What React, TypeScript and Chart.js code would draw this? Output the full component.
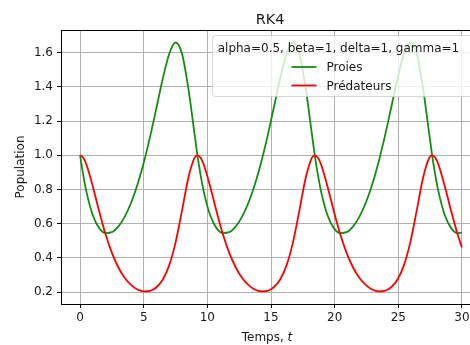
import React, { useEffect, useRef } from "react";
import { Chart, registerables } from "chart.js";

Chart.register(...registerables);

const chartTitle = "RK4";
const xLabelText = "Temps, ";
const xLabelVar = "t";
const yLabelText = "Population";
const legendTitle = "alpha=0.5, beta=1, delta=1, gamma=1";
const seriesNames = ["Proies", "Prédateurs"];
const seriesColors = ["#158c15", "#ff0000"];

const times = [
  0, 0.25, 0.5, 1, 1.5, 2, 2.5, 3, 3.5, 4, 4.5, 5, 5.5, 6, 6.5, 7, 7.5, 8, 8.5, 9,
  9.22, 9.47, 9.72, 10.22, 10.72, 11.22, 11.72, 12.22, 12.72, 13.22, 13.72, 14.22, 14.72, 15.22, 15.72, 16.22, 16.72, 17.22, 17.72, 18.22,
  18.44, 18.69, 18.94, 19.44, 19.94, 20.44, 20.94, 21.44, 21.94, 22.44, 22.94, 23.44, 23.94, 24.44, 24.94, 25.44, 25.94, 26.44, 26.94, 27.44,
  27.66, 27.91, 28.16, 28.66, 29.16, 29.66, 30,
];

const prey = [
  1.0, 0.884, 0.786, 0.649, 0.574, 0.545, 0.55, 0.583, 0.64, 0.721, 0.826, 0.956, 1.109, 1.278, 1.449, 1.593, 1.66, 1.597, 1.394, 1.121,
  1.0, 0.884, 0.786, 0.649, 0.574, 0.545, 0.55, 0.583, 0.64, 0.721, 0.826, 0.956, 1.109, 1.278, 1.449, 1.593, 1.66, 1.597, 1.394, 1.121,
  1.0, 0.884, 0.786, 0.649, 0.574, 0.545, 0.55, 0.583, 0.64, 0.721, 0.826, 0.956, 1.109, 1.278, 1.449, 1.593, 1.66, 1.597, 1.394, 1.121,
  1.0, 0.884, 0.786, 0.649, 0.574, 0.545, 0.547,
];

const predators = [
  1.0, 0.985, 0.945, 0.818, 0.672, 0.538, 0.429, 0.345, 0.284, 0.242, 0.215, 0.204, 0.207, 0.228, 0.273, 0.356, 0.489, 0.673, 0.866, 0.986,
  1.0, 0.985, 0.945, 0.818, 0.672, 0.538, 0.429, 0.345, 0.284, 0.242, 0.215, 0.204, 0.207, 0.228, 0.273, 0.356, 0.489, 0.673, 0.866, 0.986,
  1.0, 0.985, 0.945, 0.818, 0.672, 0.538, 0.429, 0.345, 0.284, 0.242, 0.215, 0.204, 0.207, 0.228, 0.273, 0.356, 0.489, 0.673, 0.866, 0.986,
  1.0, 0.985, 0.945, 0.818, 0.672, 0.538, 0.461,
];

const xTicks = [0, 5, 10, 15, 20, 25, 30];
const yTicks = [0.2, 0.4, 0.6, 0.8, 1.0, 1.2, 1.4, 1.6];

const FONT_FAMILY = "'DejaVu Sans', sans-serif";
const TEXT_COLOR = "#1a1a1a";

export default function App() {
  const ref = useRef<HTMLCanvasElement>(null);

  useEffect(() => {
    const canvas = ref.current;
    if (!canvas) return;

    const decor = {
      id: "decor",
      afterDatasetsDraw(chart: any) {
        const { ctx, chartArea: a } = chart;
        ctx.save();
        // top spine
        ctx.strokeStyle = "#000";
        ctx.lineWidth = 1;
        ctx.beginPath();
        ctx.moveTo(a.left, Math.round(a.top) + 0.5);
        ctx.lineTo(a.right, Math.round(a.top) + 0.5);
        ctx.stroke();

        // legend box
        const bx = a.right - 268.5;
        const by = a.top + 5.5;
        const bw = 262;
        const bh = 61;
        const r = 3;
        ctx.beginPath();
        ctx.moveTo(bx + r, by);
        ctx.lineTo(bx + bw - r, by);
        ctx.arcTo(bx + bw, by, bx + bw, by + r, r);
        ctx.lineTo(bx + bw, by + bh - r);
        ctx.arcTo(bx + bw, by + bh, bx + bw - r, by + bh, r);
        ctx.lineTo(bx + r, by + bh);
        ctx.arcTo(bx, by + bh, bx, by + bh - r, r);
        ctx.lineTo(bx, by + r);
        ctx.arcTo(bx, by, bx + r, by, r);
        ctx.closePath();
        ctx.fillStyle = "rgba(255,255,255,0.8)";
        ctx.fill();
        ctx.strokeStyle = "rgba(204,204,204,0.8)";
        ctx.lineWidth = 1;
        ctx.stroke();

        ctx.fillStyle = TEXT_COLOR;
        ctx.font = `12px ${FONT_FAMILY}`;
        ctx.textAlign = "left";
        ctx.textBaseline = "alphabetic";
        ctx.fillText(legendTitle, bx + 5.2, by + 16);

        const rows = [by + 31.5, by + 50];
        seriesNames.forEach((name, i) => {
          const y = rows[i];
          ctx.strokeStyle = seriesColors[i];
          ctx.lineWidth = 1.8;
          ctx.beginPath();
          ctx.moveTo(bx + 79, y);
          ctx.lineTo(bx + 104, y);
          ctx.stroke();
          ctx.fillStyle = TEXT_COLOR;
          ctx.fillText(name, bx + 114, y + 4.2);
        });
        ctx.restore();
      },
      afterDraw(chart: any) {
        const { ctx, chartArea: a } = chart;
        ctx.save();
        ctx.fillStyle = TEXT_COLOR;
        // title
        ctx.font = `14.4px ${FONT_FAMILY}`;
        ctx.textAlign = "center";
        ctx.textBaseline = "alphabetic";
        ctx.fillText(chartTitle, 270, 23.8);

        // x label with italic variable
        ctx.font = `12px ${FONT_FAMILY}`;
        const w1 = ctx.measureText(xLabelText).width;
        ctx.font = `italic 12px ${FONT_FAMILY}`;
        const w2 = ctx.measureText(xLabelVar).width;
        const start = 267 - (w1 + w2) / 2;
        ctx.textAlign = "left";
        ctx.font = `12px ${FONT_FAMILY}`;
        ctx.fillText(xLabelText, start, 341);
        ctx.font = `italic 12px ${FONT_FAMILY}`;
        ctx.fillText(xLabelVar, start + w1, 341);

        // y label
        ctx.font = `12px ${FONT_FAMILY}`;
        ctx.translate(24, (a.top + a.bottom) / 2);
        ctx.rotate(-Math.PI / 2);
        ctx.textAlign = "center";
        ctx.fillText(yLabelText, 0, 0);
        ctx.restore();
      },
    };

    const chart = new Chart(canvas, {
      type: "line",
      data: {
        datasets: [
          {
            label: seriesNames[0],
            data: times.map((t, i) => ({ x: t, y: prey[i] })),
            borderColor: seriesColors[0],
            backgroundColor: seriesColors[0],
            borderWidth: 1.8,
            pointRadius: 0,
            cubicInterpolationMode: "monotone",
            fill: false,
            order: 1,
          },
          {
            label: seriesNames[1],
            data: times.map((t, i) => ({ x: t, y: predators[i] })),
            borderColor: seriesColors[1],
            backgroundColor: seriesColors[1],
            borderWidth: 1.8,
            pointRadius: 0,
            cubicInterpolationMode: "monotone",
            fill: false,
            order: 0,
          },
        ],
      },
      options: {
        responsive: false,
        animation: false,
        devicePixelRatio: 1,
        layout: { padding: { top: 30, right: 9, left: 0, bottom: 0 } },
        plugins: {
          legend: { display: false },
          title: { display: false },
          tooltip: { enabled: false },
        },
        scales: {
          x: {
            type: "linear",
            min: -1.5,
            max: 31.5,
            afterBuildTicks: (scale: any) => {
              scale.ticks = xTicks.map((v) => ({ value: v }));
            },
            afterFit: (scale: any) => {
              scale.height = 41;
            },
            ticks: {
              autoSkip: false,
              maxRotation: 0,
              padding: 3,
              color: TEXT_COLOR,
              font: { family: FONT_FAMILY, size: 12 },
              callback: (v: any) => String(v),
            },
            grid: {
              color: "#b0b0b0",
              lineWidth: 1,
              tickLength: 4,
              tickColor: "#000",
              tickWidth: 1,
            },
            border: { display: true, color: "#000", width: 1 },
          },
          y: {
            type: "linear",
            min: 0.13,
            max: 1.733,
            afterBuildTicks: (scale: any) => {
              scale.ticks = yTicks.map((v) => ({ value: v }));
            },
            afterFit: (scale: any) => {
              scale.width = 61;
            },
            ticks: {
              autoSkip: false,
              padding: 4,
              color: TEXT_COLOR,
              font: { family: FONT_FAMILY, size: 12 },
              callback: (v: any) => Number(v).toFixed(1),
            },
            grid: {
              color: "#b0b0b0",
              lineWidth: 1,
              tickLength: 4,
              tickColor: "#000",
              tickWidth: 1,
            },
            border: { display: true, color: "#000", width: 1 },
          },
        },
      },
      plugins: [decor],
    });

    return () => chart.destroy();
  }, []);

  return (
    <div
      style={{
        position: "fixed",
        left: 0,
        top: 0,
        width: 470,
        height: 345,
        overflow: "hidden",
        background: "#fff",
      }}
    >
      <canvas ref={ref} width={490} height={345} style={{ display: "block" }} />
    </div>
  );
}
